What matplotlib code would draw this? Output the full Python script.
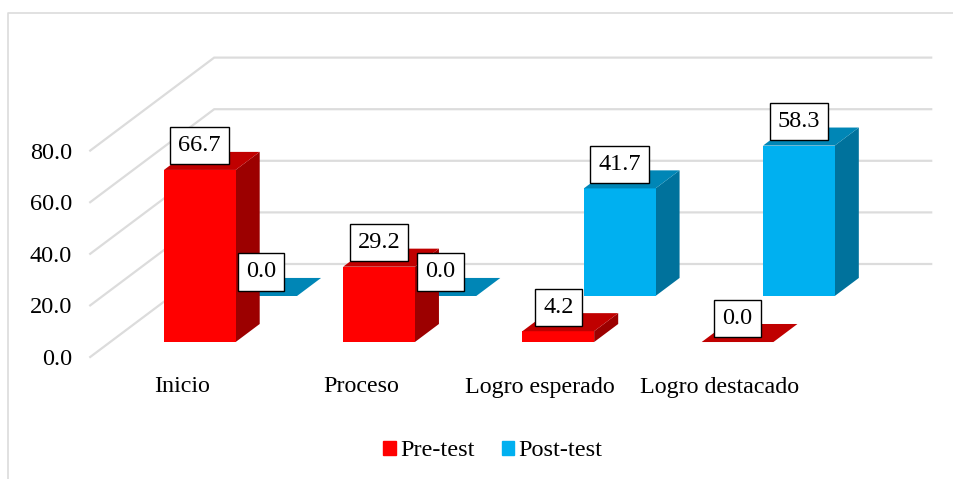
import matplotlib
matplotlib.use('Agg')
import matplotlib.pyplot as plt
from matplotlib.patches import Patch

plt.rcParams['font.family'] = ['Liberation Serif', 'DejaVu Serif']

categories = ['Inicio', 'Proceso', 'Logro esperado', 'Logro destacado']
pre_test = [66.7, 29.2, 4.2, 0.0]
post_test = [0.0, 0.0, 41.7, 58.3]
y_ticks = [0, 20, 40, 60, 80]

# pixel layout of the fake 3d box, one category is 179.25 px, 1 unit of value is 2.58 px
W, H = 954, 479
cat_px = 179.25
val_px = 2.58
x0_px = 90.2
y0_px = 357

depth_x = 124 / cat_px   # full floor depth in category units
depth_y = 93 / val_px    # full floor depth in value units
n_cat = len(categories)

fig = plt.figure(figsize=(W / 100, H / 100), dpi=100)
ax = fig.add_axes([0, 0, 1, 1])
ax.set_xlim(-x0_px / cat_px, (W - x0_px) / cat_px)
ax.set_ylim(-(H - y0_px) / val_px, y0_px / val_px)
ax.axis('off')


def proj(x, v, d):
    return x + d * depth_x, v + d * depth_y


def draw_bar(i, value, d0, d1, front, top, side):
    bar_w = 0.4
    xl, xr = i + 0.5 - bar_w / 2, i + 0.5 + bar_w / 2
    pts_front = [proj(xl, 0, d0), proj(xr, 0, d0), proj(xr, value, d0), proj(xl, value, d0)]
    pts_side = [proj(xr, 0, d0), proj(xr, 0, d1), proj(xr, value, d1), proj(xr, value, d0)]
    pts_top = [proj(xl, value, d0), proj(xr, value, d0), proj(xr, value, d1), proj(xl, value, d1)]
    if value > 0:
        ax.fill(*zip(*pts_side), color=side, lw=0, zorder=3)
        ax.fill(*zip(*pts_front), color=front, lw=0, zorder=3)
    ax.fill(*zip(*pts_top), color=top, lw=0, zorder=3)
    # label box sits about 24 px above the front top edge
    cx, cy = proj(i + 0.5, value, d0)
    ax.annotate('%.1f' % value, (cx, cy), xytext=(0, 24 * 0.72), textcoords='offset points',
                ha='center', va='center', fontsize=17.5, color='black', zorder=6,
                bbox=dict(boxstyle='square,pad=0.33', fc='white', ec='black', lw=1))


# grid, side wall and back wall
grid_c = '#dcdcdc'
for t in y_ticks:
    bx, by = proj(0, t, 1)
    ax.plot([0, bx, n_cat + depth_x], [t, by, by], color=grid_c, lw=1.6, zorder=1,
            solid_joinstyle='miter')
    ax.annotate('%.1f' % t, (0, t), xytext=(-18 * 0.72, -2.5 * 0.72), textcoords='offset points',
                ha='right', va='center', fontsize=17.5, color='black')

for i in range(n_cat):
    draw_bar(i, post_test[i], 0.656, 0.85, '#00B0F0', '#0086B6', '#00729C')
for i in range(n_cat):
    draw_bar(i, pre_test[i], 0.161, 0.355, '#FF0000', '#C00000', '#9C0000')

for i, c in enumerate(categories):
    ax.annotate(c, (i + 0.5, 0), xytext=(2 * 0.72, -30 * 0.72), textcoords='offset points',
                ha='center', va='center', fontsize=17.3, color='black')

handles = [Patch(color='#FF0000', label='Pre-test'), Patch(color='#00B0F0', label='Post-test')]
ax.legend(handles=handles, loc='center', bbox_to_anchor=(493 / W, 1 - 451 / H), ncol=2, frameon=False,
          fontsize=17.5, handlelength=0.5, handleheight=0.5, handletextpad=0.2, columnspacing=1.1)

# chart frame
ax.plot([8 / W, 8 / W, 1], [0, 1 - 13 / H, 1 - 13 / H], transform=ax.transAxes, color=grid_c, lw=1.2)

fig.savefig('out.png', dpi=100)
